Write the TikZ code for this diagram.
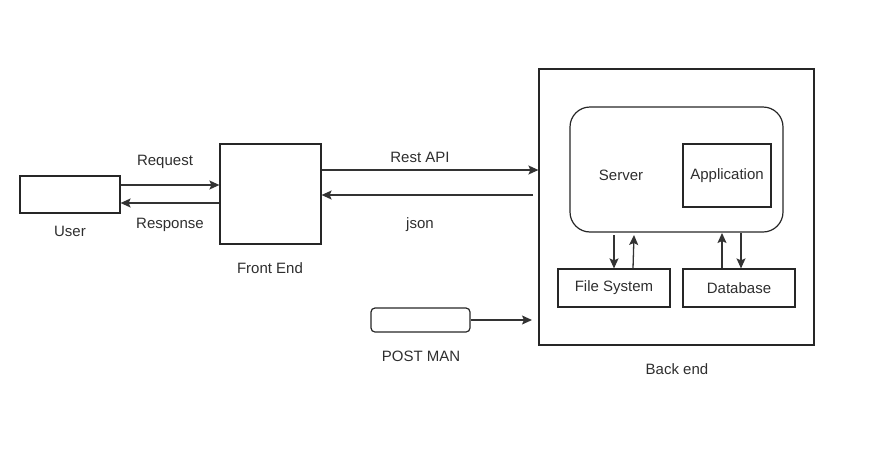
\documentclass[tikz,border=0pt]{standalone}
\usepackage{fontspec}
\setmainfont{Liberation Sans}
\usetikzlibrary{arrows.meta}
\begin{document}
\begin{tikzpicture}[x=1pt,y=-1pt,
  every node/.style={font=\fontsize{15}{17}\selectfont, text=black!82},
  box/.style={draw=black!85, line width=1.2pt, inner sep=0pt},
  lbl/.style={inner sep=0pt},
  conn/.style={draw=black!80, line width=1.3pt, -{Stealth[length=10pt,width=9pt,inset=2pt]}}]
\useasboundingbox (0,0) rectangle (881,453);
% boxes
\node[box, minimum width=100pt, minimum height=37pt] (user) at (70,194.5) {};
\node[box, minimum width=101pt, minimum height=100pt] (fe) at (270.5,194) {};
\node[box, minimum width=275pt, minimum height=276pt] (be) at (676.5,207) {};
\node[box, rounded corners=20pt, minimum width=213pt, minimum height=125pt] (srv) at (676.5,169.5) {};
\node[box, minimum width=88pt, minimum height=63pt] (app) at (727,175.5) {Application};
\node[box, minimum width=112pt, minimum height=38pt] (fs) at (614,288) {File System};
\node[box, minimum width=112pt, minimum height=38pt] (db) at (739,288) {Database};
\node[box, rounded corners=4pt, minimum width=99pt, minimum height=24pt] (pm) at (420.5,320) {};
% labels
\node[lbl] (luser) at (70,231) {User};
\node[lbl] (lfe) at (270,268) {Front End};
\node[lbl] (lbe) at (677,369) {Back end};
\node[lbl] (lsrv) at (621,175) {Server};
\node[lbl] (lpm) at (421,356) {POST MAN};
\node[lbl] (lreq) at (165,162) {Request};
\node[lbl] (lres) at (170,225) {Response};
\node[lbl] (lapi) at (420,157) {Rest API};
\node[lbl] (ljson) at (420,225) {json};
% helper coordinates
\coordinate (jsonstart) at (533,195);
\coordinate (pmend) at (532,320);
% connectors
\draw[conn] (user.east |- 0,185) -- (fe.west |- 0,185);
\draw[conn] (fe.west |- 0,203) -- (user.east |- 0,203);
\draw[conn] (fe.east |- 0,170) -- (be.west |- 0,170);
\draw[conn] (jsonstart) -- (fe.east |- 0,195);
\draw[conn] (pm.east) -- (pmend);
\draw[conn] (614,235) -- (fs.north -| 614,0);
\draw[conn] (fs.north -| 633,0) -- (634,235);
\draw[conn] (db.north -| 722,0) -- (722,233);
\draw[conn] (741,233) -- (db.north -| 741,0);
\end{tikzpicture}
\end{document}
